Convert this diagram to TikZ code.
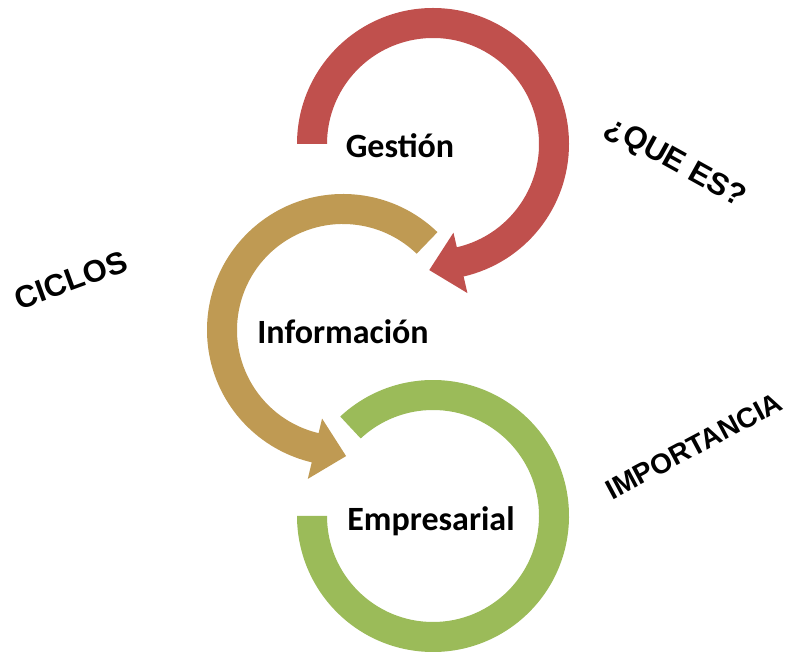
\documentclass[tikz,border=0pt]{standalone}
\usepackage{fontspec}
\usepackage{tikz}
\usetikzlibrary{calc}
\newfontfamily\carlito{Carlito}
\newfontfamily\arial{Liberation Sans}
\definecolor{rojo}{HTML}{C0504D}
\definecolor{dorado}{HTML}{BF9A53}
\definecolor{verde}{HTML}{9BBB59}
\tikzset{titulo/.style = {anchor = base, font = \carlito\bfseries\fontsize{34}{40}\selectfont},
pregunta/.style = {font = \arial\bfseries\fontsize{31}{35}\selectfont}}

\begin{document}
\begin{tikzpicture}[x = 1pt, y = 1pt]
\useasboundingbox (0,0) rectangle (795,653);
\coordinate (cGes) at (433,509);
\coordinate (cInf) at (343,323);
\coordinate (cEmp) at (433,137);
\fill[verde] ($(cEmp)+(133:136pt)$) arc[start angle = 133, end angle = -180, radius = 136pt]
-- ($(cEmp)+(180:106pt)$) arc[start angle = -180, end angle = 133, radius = 106pt] -- cycle;
\fill[dorado] ($(cInf)+(46:136pt)$) arc[start angle = 46, end angle = 256.7, radius = 136pt]
-- ($(cInf)+(256.7:153pt)$) -- ($(cInf)+(256.7:122pt)+(346.7:32pt)$)
-- ($(cInf)+(256.7:91pt)$) -- ($(cInf)+(256.7:106pt)$)
arc[start angle = 256.7, end angle = 46, radius = 106pt] -- cycle;
\fill[rojo] ($(cGes)+(180:136pt)$) arc[start angle = 180, end angle = -77, radius = 136pt]
-- ($(cGes)+(-77:153pt)$) -- ($(cGes)+(-77:122pt)+(-167:32pt)$)
-- ($(cGes)+(-77:91pt)$) -- ($(cGes)+(-77:106pt)$)
arc[start angle = -77, end angle = 180, radius = 106pt] -- cycle;
\node[titulo] (Ges) at (400,495) {Gestión};
\node[titulo] (Inf) at (343,309) {Información};
\node[titulo] (Emp) at (431,122) {Empresarial};
\node[pregunta, rotate = 20] (Cic) at (71,373) {CICLOS};
\node[pregunta, rotate = -29] (Que) at (675,490) {¿QUE ES?};
\node[pregunta, rotate = 28, font = \arial\bfseries\fontsize{28}{32}\selectfont] (Imp) at (694,207) {IMPORTANCIA};
\end{tikzpicture}
\end{document}
